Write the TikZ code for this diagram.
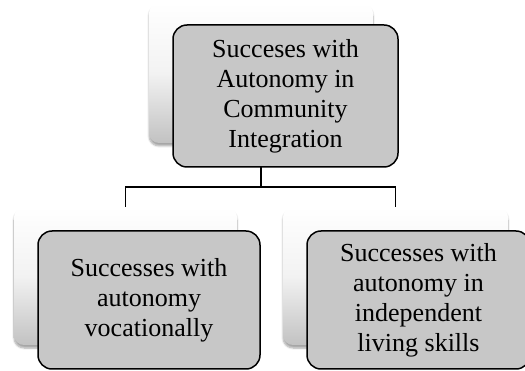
\documentclass[tikz,border=0pt]{standalone}
\usepackage{fontspec}
\setmainfont{Liberation Serif}
\usetikzlibrary{shadows.blur}
\begin{document}
\begin{tikzpicture}[x=1pt,y=-1pt,
  backbox/.style={rounded corners=10pt, draw=none, top color=white, bottom color=black!24,
    middle color=black!5, blur shadow={shadow xshift=0pt, shadow yshift=-3pt, shadow blur steps=6, shadow opacity=35},
    minimum width=#1, inner sep=0pt},
  frontbox/.style={rounded corners=14pt, draw=black, line width=1.5pt, fill=black!22,
    align=center, font=\fontsize{26}{30}\selectfont, inner sep=0pt},
  conn/.style={draw=black, line width=1.5pt}]
\useasboundingbox (0,0) rectangle (525,371);
\clip (0,0) rectangle (525,371);
% back boxes
\node[backbox=224pt, minimum height=140pt] (tb) at (261,73) {};
\node[backbox=223pt, minimum height=138pt] (lb) at (125.5,276) {};
\node[backbox=225pt, minimum height=138pt] (rb) at (395.5,276) {};
% connectors
\draw[conn] (tb.south) -- ++(0,44) coordinate (j);
\draw[conn] (j) -| (lb.north);
\draw[conn] (j) -| (rb.north);
% front boxes
\node[frontbox, minimum width=225pt, minimum height=142pt] (tf) at (285.5,96)
  {Succeses with\\Autonomy in\\Community\\Integration};
\node[frontbox, minimum width=222pt, minimum height=138pt] (lf) at (149,300)
  {Successes with\\autonomy\\vocationally};
\node[frontbox, minimum width=223pt, minimum height=138pt] (rf) at (418.5,300)
  {Successes with\\autonomy in\\independent\\living skills};
\end{tikzpicture}
\end{document}
